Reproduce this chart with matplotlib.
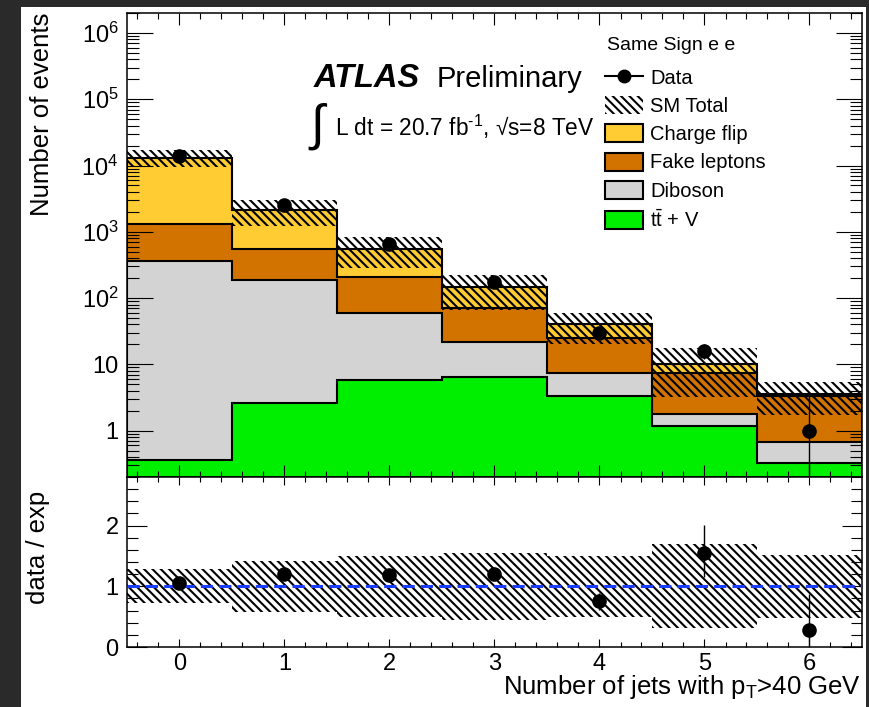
import numpy as np
import matplotlib
matplotlib.use('Agg')
import matplotlib.pyplot as plt
from matplotlib.patches import Patch, Rectangle
from matplotlib.lines import Line2D
from matplotlib.ticker import LogLocator, MultipleLocator, FuncFormatter, NullFormatter

plt.rcParams['font.family'] = ['Liberation Sans', 'DejaVu Sans']
plt.rcParams['mathtext.fontset'] = 'custom'
plt.rcParams['mathtext.rm'] = 'Liberation Sans'
plt.rcParams['mathtext.it'] = 'Liberation Sans:italic'
plt.rcParams['mathtext.bf'] = 'Liberation Sans:bold'
plt.rcParams['hatch.linewidth'] = 1.5

# jet multiplicity bins
njets = [0, 1, 2, 3, 4, 5, 6]

# background stack (events per bin), bottom to top
ttv = [0.36, 2.65, 5.9, 6.5, 3.3, 1.19, 0.32]
diboson = [360, 182, 54, 15.5, 4.2, 0.6, 0.36]
fakes = [940, 375, 145, 50, 17.5, 5.7, 2.6]
chflip = [11900, 1540, 355, 73, 15, 2.8, 0.32]

# relative uncertainty on SM total
sm_err = [0.28, 0.42, 0.50, 0.55, 0.50, 0.69, 0.52]

# data
data = [13900, 2520, 660, 175, 30, 16, 1]
data_err_up = [118, 50, 26, 13, 5.5, 4.5, 2.3]
data_err_dn = [118, 50, 26, 13, 5.5, 4.0, 0.83]
ratio_err_up = [0.01, 0.03, 0.05, 0.09, 0.14, 0.46, 0.59]
ratio_err_dn = [0.01, 0.03, 0.05, 0.09, 0.14, 0.41, 0.28]

names = ['t$\\bar{\\rm t}$ + V', 'Diboson', 'Fake leptons', 'Charge flip']
colors = ['#00ee00', '#d3d3d3', '#d27300', '#ffcc33']
HATCH = '\\\\\\\\'

W, H = 870, 707
fx = lambda x: x / W
fy = lambda y: 1 - y / H

fig = plt.figure(figsize=(8.7, 7.07), dpi=100)
fig.patch.set_facecolor('#2a2a2a')
fig.add_artist(Rectangle((fx(21), 0), fx(866) - fx(21), fy(7), transform=fig.transFigure,
                         facecolor='white', edgecolor='none', zorder=-1))

ax = fig.add_axes([fx(127), fy(477), fx(862) - fx(127), fy(13) - fy(477)])
ax2 = fig.add_axes([fx(127), fy(647), fx(862) - fx(127), fy(477) - fy(647)])

x = np.array(njets)
edges = np.append(x - 0.5, x[-1] + 0.5)
cum = np.cumsum([ttv, diboson, fakes, chflip], axis=0)
total = cum[-1]
err = np.array(sm_err)

# main panel
for i in reversed(range(4)):
    ax.stairs(cum[i], edges, baseline=1e-3, fill=True, facecolor=colors[i],
              edgecolor='black', lw=1.5)
ax.stairs(total * (1 + err), edges, baseline=total * (1 - err), fill=True,
          facecolor='none', edgecolor='black', hatch=HATCH, lw=0)
ax.errorbar(x, data, yerr=[data_err_dn, data_err_up], fmt='o', color='black',
            ms=9.5, elinewidth=1, capsize=0, zorder=5)
ax.set_yscale('log')
ax.set_xlim(-0.5, 6.5)
ax.set_ylim(0.2, 2e6)

def logfmt(v, pos):
    e = int(round(np.log10(v)))
    if e == 0:
        return '1'
    if e == 1:
        return '10'
    return r'$10^{%d}$' % e

ax.yaxis.set_major_locator(LogLocator(base=10, numticks=20))
ax.yaxis.set_minor_locator(LogLocator(base=10, subs=np.arange(2, 10), numticks=20))
ax.yaxis.set_major_formatter(FuncFormatter(logfmt))
ax.yaxis.set_minor_formatter(NullFormatter())
ax.xaxis.set_major_locator(MultipleLocator(1))
ax.xaxis.set_minor_locator(MultipleLocator(0.2))

# ratio panel
ratio = np.array(data) / total
ax2.stairs(1 + err, edges, baseline=1 - err, fill=True, facecolor='none',
           edgecolor='black', hatch=HATCH, lw=0)
ax2.axhline(1, color='#1a3cff', lw=2.2, ls=(0, (4, 2)), zorder=4)
ax2.errorbar(x, ratio, yerr=[ratio_err_dn, ratio_err_up], fmt='o', color='black',
             ms=9.5, elinewidth=1, capsize=0, zorder=5)
ax2.set_xlim(-0.5, 6.5)
ax2.set_ylim(0, 2.8)
ax2.xaxis.set_major_locator(MultipleLocator(1))
ax2.xaxis.set_minor_locator(MultipleLocator(0.2))
ax2.yaxis.set_major_locator(MultipleLocator(1))
ax2.yaxis.set_minor_locator(MultipleLocator(0.2))

for a in (ax, ax2):
    a.tick_params(which='both', direction='in', top=True, right=True, width=0.8,
                  labelsize=17, pad=6)
    for s in a.spines.values():
        s.set_linewidth(1.1)
ax.tick_params(axis='x', which='major', length=8.6, labelbottom=False)
ax.tick_params(axis='x', which='minor', length=4.3)
ax.tick_params(axis='y', which='major', length=18.7)
ax.tick_params(axis='y', which='minor', length=8.6)
ax2.tick_params(axis='x', which='major', length=6, pad=4)
ax2.tick_params(axis='x', which='minor', length=3.5)
ax2.tick_params(axis='y', which='major', length=14.4)
ax2.tick_params(axis='y', which='minor', length=7.7)

# labels
fig.text(fx(42), fy(13), 'Number of events', rotation=90, ha='center', va='top', fontsize=18.5)
fig.text(fx(38), fy(547), 'data / exp', rotation=90, ha='center', va='center', fontsize=18.5)
fig.text(fx(861), fy(694), r'Number of jets with p$_{\rm T}$>40 GeV', ha='right',
         va='baseline', fontsize=18.5)

fig.text(fx(314), fy(87), 'ATLAS', fontsize=23.5, fontweight='bold', fontstyle='italic', va='baseline')
fig.text(fx(437), fy(87), 'Preliminary', fontsize=21, va='baseline')
fig.text(fx(317), fy(126), '\u222b', fontsize=36, ha='center', va='center')
fig.text(fx(335), fy(136), 'L dt = 20.7 fb$^{\\text{-1}}$, \u221as=8 TeV', fontsize=16.3, va='baseline')

# legend
fig.text(fx(607), fy(45), 'Same Sign e e', fontsize=14, va='center')
handles = [Line2D([0], [0], color='black', marker='o', ms=9, lw=1.5),
           Patch(facecolor='white', edgecolor='black', hatch=HATCH, lw=0)]
handles += [Patch(facecolor=colors[i], edgecolor='black', lw=1.5) for i in (3, 2, 1, 0)]
labels = ['Data', 'SM Total'] + [names[i] for i in (3, 2, 1, 0)]
ax.legend(handles, labels, loc='upper left',
          bbox_to_anchor=(fx(605), fy(68)), bbox_transform=fig.transFigure,
          frameon=False, fontsize=14.5, handlelength=1.9,
          handleheight=1.0, handletextpad=0.35, labelspacing=0.41, borderpad=0,
          borderaxespad=0)

fig.savefig('out.png', dpi=100, facecolor=fig.get_facecolor())
